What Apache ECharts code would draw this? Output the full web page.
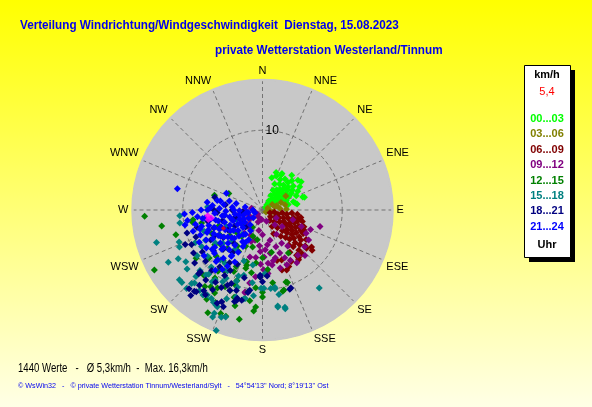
<!DOCTYPE html>
<html>
<head>
<meta charset="utf-8">
<script src="https://cdn.jsdelivr.net/npm/echarts@6/dist/echarts.min.js"></script>
<style>
  html, body { margin: 0; padding: 0; }
  #chart { width: 592px; height: 407px; }
</style>
</head>
<body>
<div id="chart"></div>
<script>
// wind direction names, clockwise from north
const dirLabels = ['N','NNE','NE','ENE','E','ESE','SE','SSE','S','SSW','SW','WSW','W','WNW','NW','NNW'];
const hourLabels = ['00...03','03...06','06...09','09...12','12...15','15...18','18...21','21...24'];
const hourColors = ['#00ff00','#808000','#800000','#800080','#008000','#008080','#000080','#0000ff'];

// points per 3 hour slot: [speed km/h, direction deg]
const pts00 = [[0.5,50],[0.8,40],[1.0,55],[1.2,45],[1.4,35],[1.5,60],[1.7,50],[1.9,42],[2.0,65],[2.1,30],[2.2,55],[2.4,47],[2.5,38],[2.6,62],[2.7,52],[2.8,28],[2.9,44],[3.0,58],[3.1,35],[3.2,68],[3.3,49],[3.4,40],[3.5,55],[3.6,25],[3.7,63],[3.8,45],[3.9,33],[4.0,52],[4.0,75],[4.1,40],[4.2,16],[4.2,60],[4.3,48],[4.4,30],[4.5,56],[4.6,22],[4.6,67],[4.7,43],[4.8,36],[4.9,52],[5.0,62],[5.0,28],[5.2,45],[5.2,28],[5.3,72],[5.5,58],[5.5,73],[5.7,40],[5.8,50],[6.0,54],[5.0,20],[4.4,80],[3.3,78],[4.2,78]];
const pts03 = [[3.4,59],[1.85,73],[2.9,77],[1.6,75],[0.95,95],[0.7,70],[1.2,100],[2.2,85],[1.4,60],[2.5,68],[0.5,120],[3.0,88]];
const pts06 = [[1.0,110],[1.3,130],[1.5,100],[1.6,145],[1.8,120],[2.0,105],[2.1,135],[2.3,115],[2.4,150],[2.5,98],[2.6,125],[2.8,110],[2.9,140],[3.0,118],[3.1,100],[3.2,130],[3.3,155],[3.4,108],[3.5,122],[3.6,136],[3.7,96],[3.8,115],[3.9,128],[4.0,145],[4.0,104],[4.1,120],[4.2,133],[4.3,112],[4.4,97],[4.5,125],[4.5,140],[4.6,108],[4.7,118],[4.8,130],[4.9,101],[5.0,114],[5.0,137],[5.1,124],[5.2,106],[5.3,132],[5.4,118],[5.5,143],[5.6,112],[5.7,126],[5.8,135],[5.9,120],[6.0,140],[6.1,128],[5.8,116],[6.3,147],[6.4,133],[6.6,124],[6.7,159],[6.8,138],[7.0,130],[7.1,143],[7.3,131],[7.4,151],[7.4,138],[7.5,143],[7.7,127],[8.0,129],[8.1,158],[4.6,104],[6.6,164],[7.9,162],[7.8,155],[7.7,144]];
const pts09 = [[7.5,106],[6.5,112],[5.3,113],[6.9,123],[7.0,131],[7.8,137],[7.9,147],[7.5,156],[7.2,151],[7.6,163],[6.2,165],[7.8,176],[8.0,175],[10.5,192],[5.2,183],[6.1,195],[5.0,176],[3.9,166],[3.1,180],[3.9,194],[2.8,215],[2.4,140],[1.6,200],[1.0,255],[2.2,270],[2.2,259],[1.4,279],[1.0,212],[2.0,235],[1.5,160],[2.6,190],[3.5,205],[4.4,172],[4.5,185],[5.5,170],[6.5,168],[6.8,182],[5.8,158],[4.8,150],[3.5,150],[2.0,120],[1.2,185],[0.8,230],[3.0,245],[2.6,225],[4.2,200],[6.6,155],[7.2,142],[6.0,188],[3.2,130],[1.8,245],[4.9,160],[5.9,178],[3.7,218],[7.0,170],[4.0,108],[6.2,118],[8.4,186],[9.3,190],[5.5,145],[2.8,262],[6.7,174],[7.5,179],[10.6,192]];
const pts12 = [[14.8,267],[12.8,261],[11.3,254],[6.3,287],[4.7,296],[8.9,260],[15.5,241],[14.0,192],[14.6,208],[14.0,202],[13.0,207],[12.2,184],[10.9,180],[10.4,165],[9.5,162],[8.0,190],[7.2,196],[6.7,187],[10.3,234],[10.4,215],[10.7,206],[9.4,200],[7.6,196],[6.3,149],[5.4,168],[6.8,197],[9.5,216],[10.4,190],[7.8,258],[8.8,262],[4.3,229],[5.2,232],[7.4,234],[6.0,210],[5.0,205],[4.2,218],[3.5,200],[6.5,222],[8.2,225],[7.0,245],[5.8,250],[3.0,235],[8.5,205],[9.0,212],[6.2,240],[4.8,195],[11.5,198],[9.8,185],[7.5,175],[3.8,190],[5.5,215],[8.0,218],[2.5,210],[12.0,210],[6.0,180],[11.0,222],[12.5,196],[9.0,228],[10.0,200],[8.4,182],[11.5,188],[7.8,205],[6.8,230],[13.2,212],[9.2,172],[14.1,199],[12.7,185],[9.6,161],[10.5,166],[10.3,180],[10.9,202],[11.3,210],[12.0,217],[11.6,214]];
const pts15 = [[12.1,144],[12.3,171],[12.7,167],[16.2,201],[13.9,253],[13.5,241],[10.4,266],[10.5,261],[6.9,273],[11.2,249],[11.4,246],[12.2,240],[13.6,228],[14.2,199],[14.8,205],[12.5,223],[12.8,218],[12.8,210],[13.4,205],[10.6,214],[10.3,209],[11.4,197],[11.4,192],[9.8,179],[9.8,171],[10.8,169],[13.6,230],[10.9,226],[10.5,220],[8.2,220],[7.0,190],[8.5,196],[8.2,215],[8.1,242],[8.9,239],[6.5,230],[5.5,225],[7.5,205],[9.0,230],[6.0,215],[4.5,235],[9.5,200],[11.0,215],[7.8,250],[5.0,245],[3.5,250],[9.2,188],[6.8,200],[10.0,235],[12.0,232],[8.8,210],[4.0,220],[11.8,225],[9.6,222],[10.2,198],[12.0,202],[8.0,178],[7.2,235],[11.6,236],[13.0,215],[9.4,244],[10.8,186],[12.8,224],[13.7,224],[12.7,213],[13.1,208],[13.3,206],[14.3,205],[14.4,201],[9.9,174],[10.0,171],[12.2,171],[12.5,167],[11.3,191],[9.7,208],[10.8,221],[9.8,181],[8.8,200]];
const pts18 = [[10.6,246],[14.0,220],[12.5,216],[13.0,206],[11.5,196],[10.4,160],[11.1,225],[9.9,253],[9.9,244],[5.7,267],[4.7,278],[10.9,202],[12.6,204],[11.3,225],[10.6,198],[8.2,182],[8.3,176],[10.0,203],[11.3,219],[8.9,217],[6.1,270],[13.5,223],[13.3,220],[13.1,202],[12.0,197],[12.3,220],[7.5,240],[6.5,250],[5.2,255],[4.0,240],[8.0,230],[9.2,235],[7.0,225],[6.0,235],[4.8,262],[3.5,255],[8.5,255],[9.5,210],[7.5,205],[6.5,215],[5.5,220],[3.0,225],[2.5,265],[8.8,195],[7.0,258],[5.0,240],[9.0,248],[10.2,238],[3.8,270],[6.2,285],[9.6,228],[10.8,232],[11.8,212],[12.8,214],[8.6,208],[7.8,212],[10.5,190],[9.0,180],[11.0,208],[6.8,242],[13.2,219],[10.5,161],[8.4,182],[11.8,196],[11.6,193],[10.2,189],[10.4,205],[10.8,213],[9.9,220],[11.0,225]];
const pts21 = [[1.0,250],[1.2,270],[1.5,230],[1.8,260],[2.0,240],[2.2,280],[2.4,220],[2.5,255],[2.7,235],[2.9,268],[3.0,210],[3.1,248],[3.4,284],[3.3,228],[3.5,262],[3.6,240],[3.7,215],[3.8,275],[3.9,250],[4.0,230],[4.1,205],[4.2,258],[4.3,285],[4.4,222],[4.5,245],[4.6,268],[4.7,212],[4.8,237],[4.9,278],[5.0,252],[5.0,295],[5.0,225],[5.1,262],[5.2,208],[5.3,242],[5.4,272],[5.5,232],[5.6,218],[5.7,256],[5.8,282],[5.9,246],[6.0,226],[6.0,266],[6.1,210],[6.2,238],[6.3,275],[6.4,250],[6.5,220],[6.6,260],[6.7,232],[6.8,244],[6.9,270],[7.0,214],[7.0,254],[7.1,226],[7.2,240],[7.3,262],[7.4,208],[7.5,248],[7.6,232],[7.7,270],[7.8,219],[7.9,255],[8.0,242],[8.1,228],[8.2,264],[8.3,212],[8.4,248],[8.5,236],[8.6,258],[8.7,222],[8.8,268],[8.9,243],[9.0,214],[9.1,253],[9.3,232],[9.5,262],[9.8,267],[9.9,259],[9.6,218],[11.0,284],[2.0,262],[2.6,245],[3.2,238],[3.6,270],[4.0,252],[4.4,235],[4.8,262],[5.2,228],[5.6,248],[6.0,258],[6.4,240],[6.8,226],[7.2,250],[7.6,262],[8.0,232],[8.4,222],[5.4,282],[6.6,272],[3.9,218],[4.6,208],[7.0,278],[8.2,253],[3.0,258],[5.9,235],[6.9,214]];
const ptsMagenta = [[6.9,264],[6.5,261],[6.9,260]];
const ptsCurrent = [[5.4,245]];

const allSlots = [pts00, pts03, pts06, pts09, pts12, pts15, pts18, pts21];
const maxSpeed = 16.3;

const chart = echarts.init(document.getElementById('chart'));

const series = allSlots.map((d, i) => ({
  name: hourLabels[i],
  type: 'scatter',
  coordinateSystem: 'polar',
  symbol: 'diamond',
  symbolSize: 7,
  z: 3,
  itemStyle: { color: hourColors[i], opacity: 1 },
  data: d
}));
series.push({ type: 'scatter', coordinateSystem: 'polar', symbol: 'diamond', symbolSize: 7, z: 3,
  itemStyle: { color: '#ff00ff' }, data: ptsMagenta });
series.push({ type: 'scatter', coordinateSystem: 'polar', symbol: 'diamond', symbolSize: 5, z: 3,
  itemStyle: { color: '#ff0000' }, data: ptsCurrent });

const baseFont = '"Liberation Sans", Arial';

// legend box text
const legendTexts = hourLabels.map((t, i) => ({
  type: 'text', z: 10,
  style: { text: t, x: 547, y: 119 + i * 15.4, fill: hourColors[i], font: 'bold 11px ' + baseFont,
    align: 'center', verticalAlign: 'middle', textAlign: 'center', textVerticalAlign: 'middle' }
}));

// text placed at (x, y), optionally squeezed horizontally
function txt(text, x, y, font, fill, align, sx) {
  return { type: 'text', z: 10, x: x, y: y, scaleX: sx || 1,
    style: { text: text, x: 0, y: 0, font: font, fill: fill, align: align || 'left', verticalAlign: 'middle',
      textAlign: align || 'left', textVerticalAlign: 'middle' } };
}

chart.setOption({
  backgroundColor: {
    type: 'linear', x: 0, y: 0, x2: 0, y2: 1,
    colorStops: [{ offset: 0, color: '#ffff00' }, { offset: 1, color: '#ffffe6' }]
  },
  animation: false,
  polar: { center: [262.5, 210], radius: 130 },
  angleAxis: {
    type: 'value', min: 0, max: 360, interval: 22.5, startAngle: 90, clockwise: true,
    axisLine: { show: false },
    axisTick: { show: false },
    axisLabel: {
      margin: 4, color: '#000', fontSize: 11, fontFamily: baseFont,
      formatter: v => (v >= 360 ? '' : dirLabels[Math.round(v / 22.5) % 16])
    },
    splitLine: { show: true, lineStyle: { color: '#737373', type: [4, 3], width: 1 } }
  },
  radiusAxis: {
    type: 'value', min: 0, max: maxSpeed, interval: 10,
    axisLine: { show: false },
    axisTick: { show: false },
    axisLabel: {
      margin: -3, align: 'left', color: '#000', fontSize: 12, fontFamily: baseFont,
      formatter: v => (v === 10 ? '10' : '')
    },
    splitLine: { show: true, lineStyle: { color: '#737373', type: [4, 3], width: 1 } }
  },
  series: series,
  graphic: [
    // grey disc behind the polar grid, and a rim that hides the outer dashed ring
    { type: 'circle', z: -1, shape: { cx: 262.5, cy: 210, r: 130 }, style: { fill: '#c8c8c8' } },
    { type: 'circle', z: 1, silent: true, shape: { cx: 262.5, cy: 210, r: 130 }, style: { fill: null, stroke: '#c8c8c8', lineWidth: 2.5 } },
    txt('Verteilung Windrichtung/Windgeschwindigkeit  Dienstag, 15.08.2023', 20, 25, 'bold 13px ' + baseFont, '#0000ee', 'left', 0.9),
    txt('private Wetterstation Westerland/Tinnum', 215, 50, 'bold 13px ' + baseFont, '#0000ee', 'left', 0.9),
    { type: 'rect', z: 9, shape: { x: 529, y: 70, width: 46, height: 192 }, style: { fill: '#000' } },
    { type: 'rect', z: 9, shape: { x: 524.5, y: 65.5, width: 46, height: 192 }, style: { fill: '#fff', stroke: '#000', lineWidth: 1 } },
    txt('km/h', 547, 75, 'bold 11px ' + baseFont, '#000', 'center'),
    txt('5,4', 547, 92, '11px ' + baseFont, '#ff0000', 'center'),
    ...legendTexts,
    txt('Uhr', 547, 245, 'bold 11px ' + baseFont, '#000', 'center'),
    txt('1440 Werte   -   \u00d8 5,3km/h  -  Max. 16,3km/h', 18, 369, '12px ' + baseFont, '#000', 'left', 0.8),
    txt('\u00a9 WsWin32   -   \u00a9 private Wetterstation Tinnum/Westerland/Sylt   -   54\u00b054\'13\'\' Nord; 8\u00b019\'13\'\' Ost', 18, 386, '7.2px ' + baseFont, '#0000ee')
  ]
});
</script>
</body>
</html>
